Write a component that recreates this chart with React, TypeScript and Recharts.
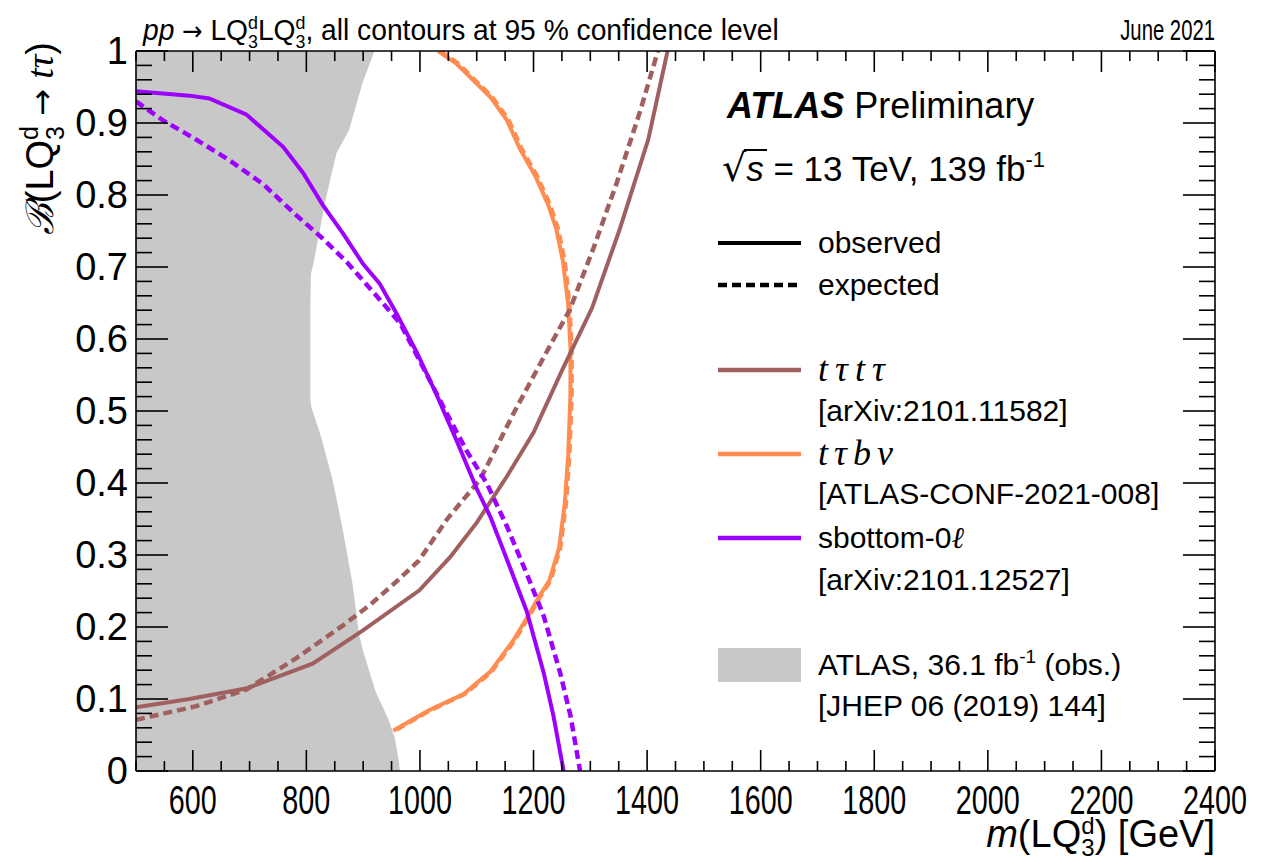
import React from 'react';
import { ComposedChart, Line, Area, XAxis, YAxis } from 'recharts';

const FONT = '"Liberation Sans", Arial, Helvetica, sans-serif';
const SERIF = '"Liberation Serif", "DejaVu Serif", serif';
const ARROW = '"DejaVu Sans", sans-serif';

const X_DOMAIN: [number, number] = [500, 2400];
const Y_DOMAIN: [number, number] = [0, 1];
const xTicks = Array.from({ length: 39 }, (_, i) => 500 + 50 * i);
const yTicks = Array.from({ length: 51 }, (_, i) => i / 50);
const yTickLabels = ['0', '0.1', '0.2', '0.3', '0.4', '0.5', '0.6', '0.7', '0.8', '0.9', '1'];

const COL_TTTT = '#a0605f';
const COL_TTBV = '#ff8c50';
const COL_SB0L = '#9d00ff';
const COL_GREY = '#c8c8c8';

// ATLAS 36.1 fb-1 observed excluded region boundary (m in GeV, b = branching ratio)
const atlas36Boundary = [
  { b: 1.0, m: 920 }, { b: 0.956, m: 899 }, { b: 0.89, m: 875 }, { b: 0.858, m: 853 },
  { b: 0.818, m: 841 }, { b: 0.786, m: 832 }, { b: 0.74, m: 821 }, { b: 0.707, m: 813 },
  { b: 0.69, m: 808 }, { b: 0.648, m: 807 }, { b: 0.515, m: 807 }, { b: 0.505, m: 809 },
  { b: 0.464, m: 826 }, { b: 0.405, m: 846 }, { b: 0.34, m: 863 }, { b: 0.261, m: 881 },
  { b: 0.189, m: 893 }, { b: 0.169, m: 899 }, { b: 0.11, m: 922 }, { b: 0.071, m: 945 },
  { b: 0.045, m: 956 }, { b: 0.012, m: 963 }, { b: 0.0, m: 965 },
];

// t tau t tau
const ttttObs = [
  { b: 0.0885, m: 500 }, { b: 0.1, m: 594 }, { b: 0.115, m: 696 }, { b: 0.149, m: 811 },
  { b: 0.195, m: 899 }, { b: 0.251, m: 999 }, { b: 0.297, m: 1053 }, { b: 0.345, m: 1100 },
  { b: 0.409, m: 1153 }, { b: 0.47, m: 1200 }, { b: 0.556, m: 1250 }, { b: 0.643, m: 1303 },
  { b: 0.753, m: 1352 }, { b: 0.877, m: 1402 }, { b: 1.0, m: 1436 },
];
const ttttExp = [
  { b: 0.071, m: 500 }, { b: 0.09, m: 606 }, { b: 0.113, m: 694 }, { b: 0.156, m: 781 },
  { b: 0.202, m: 864 }, { b: 0.23, m: 911 }, { b: 0.262, m: 957 }, { b: 0.292, m: 998 },
  { b: 0.35, m: 1048 }, { b: 0.405, m: 1106 }, { b: 0.497, m: 1165 }, { b: 0.582, m: 1223 },
  { b: 0.641, m: 1264 }, { b: 0.727, m: 1306 }, { b: 0.818, m: 1347 }, { b: 0.917, m: 1388 },
  { b: 1.0, m: 1419 },
];

// t tau b nu
const ttbvObs = [
  { b: 1.0, m: 1032 }, { b: 0.982, m: 1065 }, { b: 0.95, m: 1106 }, { b: 0.936, m: 1124 },
  { b: 0.904, m: 1153 }, { b: 0.864, m: 1176 }, { b: 0.825, m: 1204 }, { b: 0.786, m: 1226 },
  { b: 0.753, m: 1240 }, { b: 0.707, m: 1252 }, { b: 0.648, m: 1261 }, { b: 0.589, m: 1265 },
  { b: 0.523, m: 1265 }, { b: 0.438, m: 1261 }, { b: 0.372, m: 1255 }, { b: 0.31, m: 1245 },
  { b: 0.265, m: 1228 }, { b: 0.24, m: 1208 }, { b: 0.215, m: 1190 }, { b: 0.182, m: 1165 },
  { b: 0.138, m: 1124 }, { b: 0.107, m: 1077 }, { b: 0.084, m: 1015 }, { b: 0.056, m: 953 },
];
const ttbvExp = [
  { b: 1.0, m: 1035 }, { b: 0.982, m: 1068 }, { b: 0.95, m: 1109 }, { b: 0.936, m: 1127 },
  { b: 0.904, m: 1156 }, { b: 0.864, m: 1179 }, { b: 0.825, m: 1207 }, { b: 0.786, m: 1229 },
  { b: 0.753, m: 1243 }, { b: 0.707, m: 1255 }, { b: 0.648, m: 1263 }, { b: 0.589, m: 1267 },
  { b: 0.523, m: 1267 }, { b: 0.438, m: 1263 }, { b: 0.372, m: 1257 }, { b: 0.31, m: 1247 },
  { b: 0.265, m: 1230 }, { b: 0.24, m: 1210 }, { b: 0.215, m: 1192 }, { b: 0.182, m: 1167 },
  { b: 0.138, m: 1126 }, { b: 0.107, m: 1079 }, { b: 0.084, m: 1017 }, { b: 0.056, m: 955 },
];

// sbottom 0-lepton
const sb0lObs = [
  { b: 0.944, m: 500 }, { b: 0.938, m: 594 }, { b: 0.934, m: 629 }, { b: 0.912, m: 694 },
  { b: 0.867, m: 759 }, { b: 0.831, m: 794 }, { b: 0.786, m: 829 }, { b: 0.746, m: 865 },
  { b: 0.704, m: 900 }, { b: 0.677, m: 929 }, { b: 0.635, m: 959 }, { b: 0.582, m: 994 },
  { b: 0.523, m: 1029 }, { b: 0.458, m: 1065 }, { b: 0.392, m: 1100 }, { b: 0.353, m: 1124 },
  { b: 0.294, m: 1153 }, { b: 0.222, m: 1188 }, { b: 0.136, m: 1218 }, { b: 0.077, m: 1235 },
  { b: 0.0, m: 1253 },
];
const sb0lExp = [
  { b: 0.93, m: 500 }, { b: 0.904, m: 547 }, { b: 0.877, m: 606 }, { b: 0.848, m: 665 },
  { b: 0.815, m: 724 }, { b: 0.772, m: 782 }, { b: 0.743, m: 824 }, { b: 0.707, m: 871 },
  { b: 0.655, m: 929 }, { b: 0.622, m: 965 }, { b: 0.569, m: 1000 }, { b: 0.497, m: 1047 },
  { b: 0.445, m: 1082 }, { b: 0.399, m: 1118 }, { b: 0.34, m: 1153 }, { b: 0.274, m: 1188 },
  { b: 0.215, m: 1218 }, { b: 0.136, m: 1247 }, { b: 0.077, m: 1265 }, { b: 0.0, m: 1282 },
];

const isMajorX = (v: number) => v % 200 === 0;
const isMajorY = (v: number) => Math.round(v * 50) % 5 === 0;

const BottomTick = (props: any) => {
  const { x, y, payload } = props;
  const v = payload.value as number;
  const major = isMajorX(v);
  const label = String(v);
  return (
    <g>
      <line x1={x} y1={y} x2={x} y2={y - (major ? 21 : 10)} stroke="#000" strokeWidth={1.6} />
      {major && (
        <text
          x={x}
          y={y + 43}
          textAnchor="middle"
          fontSize={40}
          fontFamily={FONT}
          fill="#000"
          textLength={label.length === 4 ? 64 : 48}
          lengthAdjust="spacingAndGlyphs"
        >
          {label}
        </text>
      )}
    </g>
  );
};

const TopTick = (props: any) => {
  const { x, y, payload } = props;
  const major = isMajorX(payload.value);
  return <line x1={x} y1={y} x2={x} y2={y + (major ? 21 : 10)} stroke="#000" strokeWidth={1.6} />;
};

const LeftTick = (props: any) => {
  const { x, y, payload } = props;
  const v = payload.value as number;
  const major = isMajorY(v);
  return (
    <g>
      <line x1={x} y1={y} x2={x + (major ? 32 : 16)} y2={y} stroke="#000" strokeWidth={1.6} />
      {major && (
        <text x={x - 8} y={y + 13} textAnchor="end" fontSize={38} fontFamily={FONT} fill="#000">
          {yTickLabels[Math.round(v * 10)]}
        </text>
      )}
    </g>
  );
};

const RightTick = (props: any) => {
  const { x, y, payload } = props;
  const major = isMajorY(payload.value);
  return <line x1={x} y1={y} x2={x - (major ? 32 : 16)} y2={y} stroke="#000" strokeWidth={1.6} />;
};

const Overlay = () => (
  <svg width={1267} height={862} style={{ position: 'absolute', left: 0, top: 0, pointerEvents: 'none' }}>
    {/* title */}
    <g transform="translate(143,40) scale(0.94,1)" fontFamily={FONT} fontSize={30} fill="#000">
      <text x={0} y={0}>
        <tspan fontStyle="italic">pp</tspan>
        <tspan fontFamily={ARROW} fontSize={26}> → </tspan>
        <tspan>LQ</tspan>
        <tspan dy={-11} fontSize={19}>d</tspan>
        <tspan dx={-10.6} dy={19} fontSize={19}>3</tspan>
        <tspan dy={-8}>LQ</tspan>
        <tspan dy={-11} fontSize={19}>d</tspan>
        <tspan dx={-10.6} dy={19} fontSize={19}>3</tspan>
        <tspan dy={-8}>, all contours at 95 % confidence level</tspan>
      </text>
    </g>
    <g transform="translate(1215,40) scale(0.70,1)" fontFamily={FONT} fontSize={29} fill="#000">
      <text x={0} y={0} textAnchor="end">June 2021</text>
    </g>

    {/* y axis title */}
    <text transform="translate(53,42) rotate(-90)" textAnchor="end" fontFamily={FONT} fontSize={38} fill="#000">
      <tspan fontFamily={SERIF} fontStyle="italic">ℬ</tspan>
      <tspan>(LQ</tspan>
      <tspan dy={-15} fontSize={25}>d</tspan>
      <tspan dx={-13.9} dy={26} fontSize={25}>3</tspan>
      <tspan dy={-11} fontFamily={ARROW} fontSize={32}> → </tspan>
      <tspan fontFamily={SERIF} fontStyle="italic">tτ</tspan>
      <tspan>)</tspan>
    </text>

    {/* x axis title */}
    <text x={1215} y={847} textAnchor="end" fontFamily={FONT} fontSize={38} fill="#000">
      <tspan fontStyle="italic">m</tspan>
      <tspan>(LQ</tspan>
      <tspan dy={-13} fontSize={24}>d</tspan>
      <tspan dx={-13.3} dy={22} fontSize={24}>3</tspan>
      <tspan dy={-9}>) [GeV]</tspan>
    </text>

    {/* ATLAS label */}
    <text x={727} y={118} fontFamily={FONT} fontSize={36} fill="#000">
      <tspan fontWeight="bold" fontStyle="italic">ATLAS</tspan>
      <tspan> Preliminary</tspan>
    </text>
    <text x={722} y={181} fontFamily={FONT} fontSize={35} fill="#000">
      <tspan fontFamily={ARROW} fontSize={38}>√</tspan>
      <tspan fontStyle="italic">s</tspan>
      <tspan> = 13 TeV, 139 fb</tspan>
      <tspan dy={-14} fontSize={22}>-1</tspan>
    </text>
    <line x1={744} x2={767} y1={150} y2={150} stroke="#000" strokeWidth={2} />

    {/* legend */}
    <g fontFamily={FONT} fontSize={30} fill="#000">
      <line x1={718} x2={801} y1={243} y2={243} stroke="#000" strokeWidth={4} />
      <text x={818} y={253}>observed</text>
      <line x1={718} x2={801} y1={285} y2={285} stroke="#000" strokeWidth={4.5} strokeDasharray="9 5" />
      <text x={818} y={295}>expected</text>

      <line x1={718} x2={801} y1={370} y2={370} stroke={COL_TTTT} strokeWidth={4.5} />
      <text x={818} y={381} fontFamily={SERIF} fontStyle="italic" fontSize={36} letterSpacing={7}>tτtτ</text>
      <text x={818} y={421}>[arXiv:2101.11582]</text>

      <line x1={718} x2={801} y1={454} y2={454} stroke={COL_TTBV} strokeWidth={4.5} />
      <text x={818} y={465} fontFamily={SERIF} fontStyle="italic" fontSize={36} letterSpacing={6}>tτbν</text>
      <text x={818} y={504}>[ATLAS-CONF-2021-008]</text>

      <line x1={718} x2={801} y1={538} y2={538} stroke={COL_SB0L} strokeWidth={4.5} />
      <text x={818} y={548}>
        <tspan>sbottom-0</tspan>
        <tspan fontFamily={SERIF} fontStyle="italic">ℓ</tspan>
      </text>
      <text x={818} y={590}>[arXiv:2101.12527]</text>

      <rect x={718} y={648} width={83} height={34} fill={COL_GREY} />
      <text x={818} y={675}>
        <tspan>ATLAS, 36.1 fb</tspan>
        <tspan dy={-12} fontSize={19}>-1</tspan>
        <tspan dy={12}> (obs.)</tspan>
      </text>
      <text x={818} y={716}>[JHEP 06 (2019) 144]</text>
    </g>
  </svg>
);

export default function App() {
  return (
    <div style={{ position: 'fixed', left: 0, top: 0, width: 1267, height: 862, background: '#fff' }}>
      <ComposedChart
        width={1267}
        height={862}
        layout="vertical"
        margin={{ top: 50, right: 51, bottom: 31, left: 36 }}
      >
        <XAxis
          xAxisId="bottom"
          type="number"
          orientation="bottom"
          domain={X_DOMAIN}
          allowDataOverflow
          ticks={xTicks}
          interval={0}
          height={60}
          tickSize={0}
          tickMargin={0}
          tick={<BottomTick />}
          axisLine={{ stroke: '#000', strokeWidth: 1.6 }}
        />
        <XAxis
          xAxisId="top"
          type="number"
          orientation="top"
          domain={X_DOMAIN}
          allowDataOverflow
          ticks={xTicks}
          interval={0}
          height={1}
          tickSize={0}
          tickMargin={0}
          tick={<TopTick />}
          axisLine={{ stroke: '#000', strokeWidth: 1.6 }}
        />
        <YAxis
          yAxisId="left"
          type="number"
          dataKey="b"
          orientation="left"
          domain={Y_DOMAIN}
          allowDataOverflow
          reversed
          ticks={yTicks}
          interval={0}
          width={100}
          tickSize={0}
          tickMargin={0}
          tick={<LeftTick />}
          axisLine={{ stroke: '#000', strokeWidth: 1.6 }}
        />
        <YAxis
          yAxisId="right"
          type="number"
          dataKey="b"
          orientation="right"
          domain={Y_DOMAIN}
          allowDataOverflow
          reversed
          ticks={yTicks}
          interval={0}
          width={1}
          tickSize={0}
          tickMargin={0}
          tick={<RightTick />}
          axisLine={{ stroke: '#000', strokeWidth: 1.6 }}
        />

        <Area
          xAxisId="bottom"
          yAxisId="left"
          data={atlas36Boundary}
          dataKey="m"
          type="linear"
          stroke="none"
          fill={COL_GREY}
          fillOpacity={1}
          isAnimationActive={false}
          dot={false}
          activeDot={false}
        />
        <Line xAxisId="top" yAxisId="right" data={ttbvExp} dataKey="m" type="linear" stroke={COL_TTBV} strokeWidth={4.5} strokeDasharray="9 5" dot={false} activeDot={false} isAnimationActive={false} />
        <Line xAxisId="bottom" yAxisId="left" data={ttbvObs} dataKey="m" type="linear" stroke={COL_TTBV} strokeWidth={4} dot={false} activeDot={false} isAnimationActive={false} />
        <Line xAxisId="bottom" yAxisId="left" data={ttttExp} dataKey="m" type="linear" stroke={COL_TTTT} strokeWidth={4.5} strokeDasharray="9 5" dot={false} activeDot={false} isAnimationActive={false} />
        <Line xAxisId="bottom" yAxisId="left" data={ttttObs} dataKey="m" type="linear" stroke={COL_TTTT} strokeWidth={4} dot={false} activeDot={false} isAnimationActive={false} />
        <Line xAxisId="bottom" yAxisId="left" data={sb0lExp} dataKey="m" type="linear" stroke={COL_SB0L} strokeWidth={4.5} strokeDasharray="9 5" dot={false} activeDot={false} isAnimationActive={false} />
        <Line xAxisId="bottom" yAxisId="left" data={sb0lObs} dataKey="m" type="linear" stroke={COL_SB0L} strokeWidth={4} dot={false} activeDot={false} isAnimationActive={false} />
      </ComposedChart>
      <Overlay />
    </div>
  );
}
